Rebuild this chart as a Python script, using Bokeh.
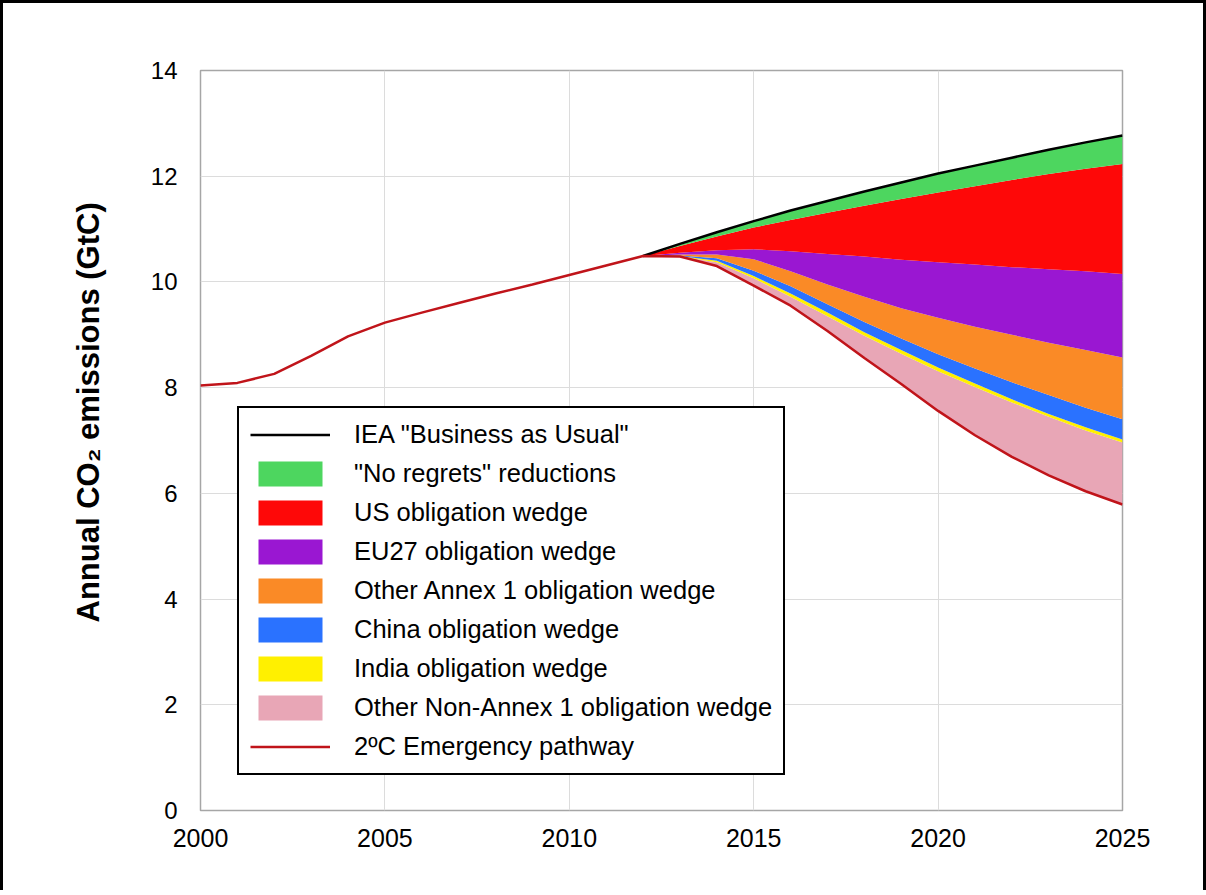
import numpy as np
from bokeh.plotting import figure
from bokeh.models import Legend, LegendItem, FixedTicker, Range1d, Title
from bokeh.embed import file_html
from bokeh.resources import INLINE

# ---------------- data ----------------
hist_years = list(range(2000, 2013))
hist_emissions = [8.04, 8.09, 8.26, 8.60, 8.97, 9.23, 9.42, 9.60, 9.78, 9.95, 10.13, 10.31, 10.49]

proj_years = list(range(2012, 2026))
emergency_pathway = [10.49, 10.48, 10.30, 9.93, 9.55, 9.07, 8.56, 8.07, 7.56, 7.10, 6.69, 6.34, 6.04, 5.79]

# obligation wedges (GtC), stacked from the emergency pathway upwards
other_non_annex1 = [0, 0.00, 0.07, 0.14, 0.17, 0.28, 0.42, 0.57, 0.75, 0.91, 1.03, 1.11, 1.15, 1.17]
india            = [0, 0.01, 0.03, 0.04, 0.06, 0.07, 0.07, 0.07, 0.07, 0.07, 0.06, 0.05, 0.06, 0.06]
china            = [0, 0.01, 0.05, 0.10, 0.14, 0.16, 0.19, 0.22, 0.25, 0.28, 0.32, 0.36, 0.37, 0.38]
other_annex1     = [0, 0.02, 0.07, 0.22, 0.28, 0.37, 0.48, 0.57, 0.69, 0.79, 0.90, 0.99, 1.09, 1.17]
eu27             = [0, 0.03, 0.08, 0.19, 0.38, 0.58, 0.76, 0.92, 1.05, 1.18, 1.28, 1.39, 1.49, 1.58]
us               = [0, 0.13, 0.26, 0.41, 0.59, 0.78, 0.96, 1.15, 1.32, 1.48, 1.65, 1.80, 1.94, 2.08]
no_regrets       = [0, 0.04, 0.08, 0.12, 0.18, 0.22, 0.27, 0.31, 0.36, 0.39, 0.42, 0.46, 0.50, 0.54]

x_ticks = [2000, 2005, 2010, 2015, 2020, 2025]
y_ticks = [0, 2, 4, 6, 8, 10, 12, 14]
y_title = "Annual CO\u2082 emissions (GtC)"

wedge_names = ['Other Non-Annex 1 obligation wedge', 'India obligation wedge', 'China obligation wedge',
               'Other Annex 1 obligation wedge', 'EU27 obligation wedge', 'US obligation wedge',
               '"No regrets" reductions']
wedge_values = [other_non_annex1, india, china, other_annex1, eu27, us, no_regrets]
wedge_colors = ['#E8A6B6', '#FFF000', '#2A72FF', '#FA8A26', '#9A17D2', '#FE0808', '#4DD65F']

# ---------------- figure ----------------
p = figure(width=1206, height=890, output_backend="svg", toolbar_location=None,
           x_range=Range1d(2000, 2025), y_range=Range1d(0, 14),
           min_border_left=197, min_border_right=87, min_border_top=67, min_border_bottom=83)
p.styles = {"border-left": "3px solid black", "border-top": "3px solid black",
            "border-right": "3px solid black"}
p.background_fill_color = "white"
p.border_fill_color = "white"
p.outline_line_color = "#A6A6A6"
p.outline_line_width = 1.5

p.xaxis.ticker = FixedTicker(ticks=x_ticks)
p.yaxis.ticker = FixedTicker(ticks=y_ticks)
for ax in (p.xaxis[0], p.yaxis[0]):
    ax.axis_line_color = None
    ax.major_tick_line_color = None
    ax.minor_tick_line_color = None
    ax.major_label_text_font = "Liberation Sans"
    ax.major_label_text_color = "black"
p.xaxis.major_label_text_font_size = "25px"
p.yaxis.major_label_text_font_size = "24px"
p.xaxis.major_label_standoff = 12
p.yaxis.major_label_standoff = 17

# y-axis title (starts a little above the bottom of the frame, as in the original)
p.add_layout(Title(text=y_title, align="left", offset=188, standoff=83,
                   text_font="Liberation Sans", text_font_style="bold", text_font_size="31px",
                   text_color="black"), "left")

p.xgrid.grid_line_color = "#DCDCDC"
p.ygrid.grid_line_color = "#DCDCDC"
p.xgrid.grid_line_width = 1
p.ygrid.grid_line_width = 1

# stacked wedges
lower = np.array(emergency_pathway, dtype=float)
wedge_renderers = []
for name, vals, col in zip(wedge_names, wedge_values, wedge_colors):
    upper = lower + np.array(vals, dtype=float)
    r = p.varea(x=proj_years, y1=lower.copy(), y2=upper.copy(), fill_color=col, fill_alpha=1.0)
    wedge_renderers.append(r)
    lower = upper
bau = lower

bau_r = p.line(proj_years, bau, line_color="black", line_width=2.5)
path_years = hist_years + proj_years[1:]
path_vals = hist_emissions + emergency_pathway[1:]
path_r = p.line(path_years, path_vals, line_color="#C0141A", line_width=2.5)

items = [LegendItem(label='IEA "Business as Usual"', renderers=[bau_r])]
for name, r in reversed(list(zip(wedge_names, wedge_renderers))):
    items.append(LegendItem(label=name, renderers=[r]))
items.append(LegendItem(label='2\u00baC Emergency pathway', renderers=[path_r]))

legend = Legend(items=items, location=(37, 35))
legend.border_line_color = "black"
legend.border_line_alpha = 1.0
legend.border_line_width = 2
legend.background_fill_color = "white"
legend.background_fill_alpha = 1.0
legend.label_text_font = "Liberation Sans"
legend.label_text_font_size = "25.5px"
legend.label_text_color = "black"
legend.glyph_width = 80
legend.glyph_height = 31
legend.label_height = 31
legend.label_standoff = 24
legend.spacing = 8
legend.padding = 11
legend.margin = 0
p.add_layout(legend, "center")

open("out.html", "w").write(file_html(p, INLINE))
